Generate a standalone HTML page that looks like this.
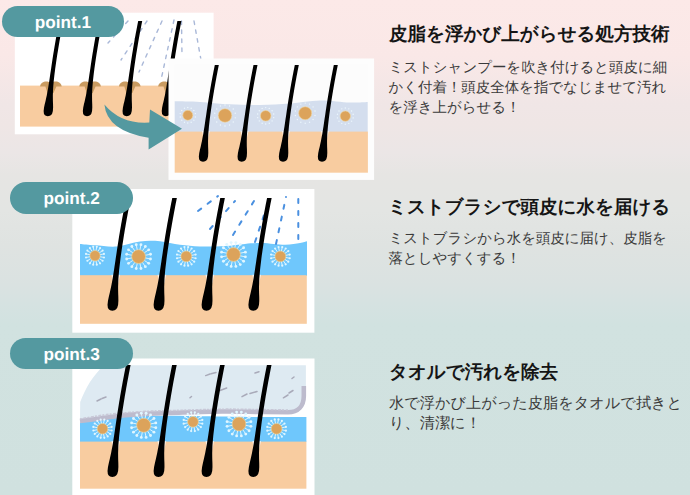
<!DOCTYPE html>
<html><head><meta charset="utf-8"><style>
html,body{margin:0;padding:0;}
body{width:690px;height:495px;overflow:hidden;position:relative;font-family:"Liberation Sans",sans-serif;text-rendering:geometricPrecision;
background:linear-gradient(to bottom,#fce9e8 0px,#fae8e7 55px,#f0e6e6 105px,#efe6e5 125px,#ebe6e6 153px,#e6e5e3 175px,#e3e5e3 210px,#dfe3e1 245px,#dae2e1 285px,#d5e2e1 305px,#d1e2e0 325px,#d0e1df 495px);}
svg{position:absolute;left:0;top:0;}
.badge{position:absolute;background:#5499a0;color:#fff;border-radius:16px;font-weight:bold;font-size:17.2px;text-align:center;}
.h{position:absolute;left:389px;font-size:18.5px;font-weight:bold;color:#151515;white-space:nowrap;line-height:1;}
.p{position:absolute;left:388.5px;font-size:14.45px;color:#3a3a3a;white-space:nowrap;line-height:19.8px;}
</style></head><body>
<svg width="690" height="495" viewBox="0 0 690 495">
<rect x="14.8" y="12.7" width="198.8" height="121.6" fill="#fff"/>
<rect x="20" y="85.6" width="190" height="41" fill="#f8cca0"/>
<line x1="147" y1="21" x2="121" y2="60" stroke="#a9b8d8" stroke-width="1.4" stroke-dasharray="3.5 5.5" stroke-linecap="round"/><line x1="128" y1="21" x2="108" y2="43" stroke="#a9b8d8" stroke-width="1.4" stroke-dasharray="3.5 5.5" stroke-linecap="round"/><line x1="162" y1="21" x2="139" y2="72" stroke="#a9b8d8" stroke-width="1.4" stroke-dasharray="3.5 5.5" stroke-linecap="round"/><line x1="174" y1="20" x2="161" y2="80" stroke="#a9b8d8" stroke-width="1.4" stroke-dasharray="3.5 5.5" stroke-linecap="round"/><line x1="181.5" y1="21" x2="182" y2="56" stroke="#a9b8d8" stroke-width="1.4" stroke-dasharray="3.5 5.5" stroke-linecap="round"/><line x1="194" y1="21" x2="201" y2="60" stroke="#a9b8d8" stroke-width="1.4" stroke-dasharray="3.5 5.5" stroke-linecap="round"/>
<path d="M40.1,86.5 C40.6,80.8 47.9,80.2 50.9,83.2 C53.9,80.2 61.2,80.8 61.7,86.5 L56.4,86.5 L53.5,93 L47.5,93 L45.4,86.5Z" fill="#c99b60"/>
<path d="M79.3,86.5 C79.8,80.8 87.1,80.2 90.1,83.2 C93.1,80.2 100.4,80.8 100.9,86.5 L95.6,86.5 L92.7,93 L86.7,93 L84.6,86.5Z" fill="#c99b60"/>
<path d="M119,86.5 C119.5,80.8 126.8,80.2 129.8,83.2 C132.8,80.2 140.1,80.8 140.6,86.5 L135.3,86.5 L132.4,93 L126.4,93 L124.3,86.5Z" fill="#c99b60"/>
<path d="M158.2,86.5 C158.7,80.8 166,80.2 169,83.2 C172,80.2 179.3,80.8 179.8,86.5 L174.5,86.5 L171.6,93 L165.6,93 L163.5,86.5Z" fill="#c99b60"/>
<path d="M59.29,21L58.7,23.97L58.12,26.93L57.55,29.9L56.99,32.86L56.45,35.83L55.91,38.79L55.38,41.76L54.87,44.72L54.36,47.69L53.87,50.66L53.39,53.62L52.92,56.59L52.45,59.55L52,62.52L51.56,65.48L51.14,68.45L50.76,70.89L50.39,73.32L50.03,75.76L49.67,78.19L49.32,80.63L48.9,83.24L48.48,85.85L48.06,88.46L47.62,90.78L47.19,93.1L46.76,95.42L46.17,98.03L45.6,100.64L45.18,102.38L44.77,104.12L44.41,105.86L44.04,107.6L43.84,109.34L43.64,111.08L43.93,113.69L44.69,114.99L45.84,115.86L47.8,116.3L49.84,115.86L51.13,114.99L52.11,113.69L52.86,111.08L52.97,109.34L53.09,107.6L53.06,105.86L53.03,104.12L52.97,102.38L52.9,100.64L52.87,98.03L52.85,95.42L52.93,93.1L53.02,90.78L53.11,88.46L53.32,85.85L53.54,83.24L53.76,80.63L54.04,78.19L54.32,75.76L54.62,73.32L54.92,70.89L55.22,68.45L55.65,65.48L56.08,62.52L56.53,59.55L56.98,56.59L57.45,53.62L57.93,50.66L58.41,47.69L58.91,44.72L59.42,41.76L59.94,38.79L60.48,35.83L61.02,32.86L61.57,29.9L62.14,26.93L62.71,23.97L63.3,21Z" fill="#000"/>
<path d="M98.49,21L97.9,23.97L97.32,26.93L96.75,29.9L96.19,32.86L95.65,35.83L95.11,38.79L94.58,41.76L94.07,44.72L93.56,47.69L93.07,50.66L92.59,53.62L92.12,56.59L91.65,59.55L91.2,62.52L90.76,65.48L90.34,68.45L89.96,70.89L89.59,73.32L89.23,75.76L88.87,78.19L88.52,80.63L88.1,83.24L87.68,85.85L87.26,88.46L86.82,90.78L86.39,93.1L85.96,95.42L85.37,98.03L84.8,100.64L84.38,102.38L83.97,104.12L83.61,105.86L83.24,107.6L83.04,109.34L82.84,111.08L83.13,113.69L83.89,114.99L85.04,115.86L87,116.3L89.04,115.86L90.33,114.99L91.31,113.69L92.06,111.08L92.17,109.34L92.29,107.6L92.26,105.86L92.23,104.12L92.17,102.38L92.1,100.64L92.07,98.03L92.05,95.42L92.13,93.1L92.22,90.78L92.31,88.46L92.52,85.85L92.74,83.24L92.96,80.63L93.24,78.19L93.52,75.76L93.82,73.32L94.12,70.89L94.42,68.45L94.85,65.48L95.28,62.52L95.73,59.55L96.18,56.59L96.65,53.62L97.13,50.66L97.61,47.69L98.11,44.72L98.62,41.76L99.14,38.79L99.68,35.83L100.22,32.86L100.77,29.9L101.34,26.93L101.91,23.97L102.5,21Z" fill="#000"/>
<path d="M138.19,21L137.6,23.97L137.02,26.93L136.45,29.9L135.89,32.86L135.35,35.83L134.81,38.79L134.28,41.76L133.77,44.72L133.26,47.69L132.77,50.66L132.29,53.62L131.82,56.59L131.35,59.55L130.9,62.52L130.46,65.48L130.04,68.45L129.66,70.89L129.29,73.32L128.93,75.76L128.57,78.19L128.22,80.63L127.8,83.24L127.38,85.85L126.96,88.46L126.52,90.78L126.09,93.1L125.66,95.42L125.07,98.03L124.5,100.64L124.08,102.38L123.67,104.12L123.31,105.86L122.94,107.6L122.74,109.34L122.54,111.08L122.83,113.69L123.59,114.99L124.74,115.86L126.7,116.3L128.74,115.86L130.03,114.99L131.01,113.69L131.76,111.08L131.87,109.34L131.99,107.6L131.96,105.86L131.93,104.12L131.87,102.38L131.8,100.64L131.77,98.03L131.75,95.42L131.83,93.1L131.92,90.78L132.01,88.46L132.22,85.85L132.44,83.24L132.66,80.63L132.94,78.19L133.22,75.76L133.52,73.32L133.82,70.89L134.12,68.45L134.55,65.48L134.98,62.52L135.43,59.55L135.88,56.59L136.35,53.62L136.83,50.66L137.31,47.69L137.81,44.72L138.32,41.76L138.84,38.79L139.38,35.83L139.92,32.86L140.47,29.9L141.04,26.93L141.61,23.97L142.2,21Z" fill="#000"/>
<path d="M177.39,21L176.8,23.97L176.22,26.93L175.65,29.9L175.09,32.86L174.55,35.83L174.01,38.79L173.48,41.76L172.97,44.72L172.46,47.69L171.97,50.66L171.49,53.62L171.02,56.59L170.55,59.55L170.1,62.52L169.66,65.48L169.24,68.45L168.86,70.89L168.49,73.32L168.13,75.76L167.77,78.19L167.42,80.63L167,83.24L166.58,85.85L166.16,88.46L165.72,90.78L165.29,93.1L164.86,95.42L164.27,98.03L163.7,100.64L163.28,102.38L162.87,104.12L162.51,105.86L162.14,107.6L161.94,109.34L161.74,111.08L162.03,113.69L162.79,114.99L163.94,115.86L165.9,116.3L167.94,115.86L169.23,114.99L170.21,113.69L170.96,111.08L171.07,109.34L171.19,107.6L171.16,105.86L171.13,104.12L171.07,102.38L171,100.64L170.97,98.03L170.95,95.42L171.03,93.1L171.12,90.78L171.21,88.46L171.42,85.85L171.64,83.24L171.86,80.63L172.14,78.19L172.42,75.76L172.72,73.32L173.02,70.89L173.32,68.45L173.75,65.48L174.18,62.52L174.63,59.55L175.08,56.59L175.55,53.62L176.03,50.66L176.51,47.69L177.01,44.72L177.52,41.76L178.04,38.79L178.58,35.83L179.12,32.86L179.67,29.9L180.24,26.93L180.81,23.97L181.4,21Z" fill="#000"/>
<rect x="168.5" y="58.5" width="205.6" height="121.4" fill="#fdfdfd"/>
<rect x="174.7" y="64.7" width="193.2" height="108" fill="#fcfcfc"/>
<path d="M174.7,101.3 C178.92,101.4 190.78,101.4 200,101.9 C209.22,102.4 220,103.8 230,104.3 C240,104.8 250,105.05 260,104.9 C270,104.75 280,104.15 290,103.4 C300,102.65 310,100.55 320,100.4 C330,100.25 342.05,102.25 350,102.5 C357.95,102.75 364.75,102 367.7,101.9 L367.7,132 L174.7,132Z" fill="#d4deee"/>
<rect x="174.7" y="131.6" width="193.2" height="41.1" fill="#f8cca0"/>
<circle cx="195.36" cy="117.02" r="0.7" fill="#f0fbff" opacity="0.9"/><circle cx="193.86" cy="120.13" r="0.7" fill="#f0fbff" opacity="0.9"/><circle cx="191.16" cy="122.28" r="0.7" fill="#f0fbff" opacity="0.9"/><circle cx="187.8" cy="123.05" r="0.7" fill="#f0fbff" opacity="0.9"/><circle cx="184.44" cy="122.28" r="0.7" fill="#f0fbff" opacity="0.9"/><circle cx="181.74" cy="120.13" r="0.7" fill="#f0fbff" opacity="0.9"/><circle cx="180.24" cy="117.02" r="0.7" fill="#f0fbff" opacity="0.9"/><circle cx="180.24" cy="113.58" r="0.7" fill="#f0fbff" opacity="0.9"/><circle cx="181.74" cy="110.47" r="0.7" fill="#f0fbff" opacity="0.9"/><circle cx="184.44" cy="108.32" r="0.7" fill="#f0fbff" opacity="0.9"/><circle cx="187.8" cy="107.55" r="0.7" fill="#f0fbff" opacity="0.9"/><circle cx="191.16" cy="108.32" r="0.7" fill="#f0fbff" opacity="0.9"/><circle cx="193.86" cy="110.47" r="0.7" fill="#f0fbff" opacity="0.9"/><circle cx="195.36" cy="113.58" r="0.7" fill="#f0fbff" opacity="0.9"/><circle cx="187.8" cy="115.3" r="5" fill="#dca35b" stroke="#f2d9a0" stroke-width="0.6"/>
<circle cx="235.28" cy="117.85" r="0.7" fill="#f0fbff" opacity="0.9"/><circle cx="233.24" cy="122.07" r="0.7" fill="#f0fbff" opacity="0.9"/><circle cx="229.57" cy="125" r="0.7" fill="#f0fbff" opacity="0.9"/><circle cx="225" cy="126.04" r="0.7" fill="#f0fbff" opacity="0.9"/><circle cx="220.43" cy="125" r="0.7" fill="#f0fbff" opacity="0.9"/><circle cx="216.76" cy="122.07" r="0.7" fill="#f0fbff" opacity="0.9"/><circle cx="214.72" cy="117.85" r="0.7" fill="#f0fbff" opacity="0.9"/><circle cx="214.72" cy="113.15" r="0.7" fill="#f0fbff" opacity="0.9"/><circle cx="216.76" cy="108.93" r="0.7" fill="#f0fbff" opacity="0.9"/><circle cx="220.43" cy="106" r="0.7" fill="#f0fbff" opacity="0.9"/><circle cx="225" cy="104.96" r="0.7" fill="#f0fbff" opacity="0.9"/><circle cx="229.57" cy="106" r="0.7" fill="#f0fbff" opacity="0.9"/><circle cx="233.24" cy="108.93" r="0.7" fill="#f0fbff" opacity="0.9"/><circle cx="235.28" cy="113.15" r="0.7" fill="#f0fbff" opacity="0.9"/><circle cx="225" cy="115.5" r="6.8" fill="#dca35b" stroke="#f2d9a0" stroke-width="0.6"/>
<circle cx="273.71" cy="117.63" r="0.7" fill="#f0fbff" opacity="0.9"/><circle cx="272.12" cy="120.92" r="0.7" fill="#f0fbff" opacity="0.9"/><circle cx="269.26" cy="123.2" r="0.7" fill="#f0fbff" opacity="0.9"/><circle cx="265.7" cy="124.02" r="0.7" fill="#f0fbff" opacity="0.9"/><circle cx="262.14" cy="123.2" r="0.7" fill="#f0fbff" opacity="0.9"/><circle cx="259.28" cy="120.92" r="0.7" fill="#f0fbff" opacity="0.9"/><circle cx="257.69" cy="117.63" r="0.7" fill="#f0fbff" opacity="0.9"/><circle cx="257.69" cy="113.97" r="0.7" fill="#f0fbff" opacity="0.9"/><circle cx="259.28" cy="110.68" r="0.7" fill="#f0fbff" opacity="0.9"/><circle cx="262.14" cy="108.4" r="0.7" fill="#f0fbff" opacity="0.9"/><circle cx="265.7" cy="107.58" r="0.7" fill="#f0fbff" opacity="0.9"/><circle cx="269.26" cy="108.4" r="0.7" fill="#f0fbff" opacity="0.9"/><circle cx="272.12" cy="110.68" r="0.7" fill="#f0fbff" opacity="0.9"/><circle cx="273.71" cy="113.97" r="0.7" fill="#f0fbff" opacity="0.9"/><circle cx="265.7" cy="115.8" r="5.3" fill="#dca35b" stroke="#f2d9a0" stroke-width="0.6"/>
<circle cx="315.02" cy="115.44" r="0.7" fill="#f0fbff" opacity="0.9"/><circle cx="313.08" cy="119.48" r="0.7" fill="#f0fbff" opacity="0.9"/><circle cx="309.57" cy="122.28" r="0.7" fill="#f0fbff" opacity="0.9"/><circle cx="305.2" cy="123.28" r="0.7" fill="#f0fbff" opacity="0.9"/><circle cx="300.83" cy="122.28" r="0.7" fill="#f0fbff" opacity="0.9"/><circle cx="297.32" cy="119.48" r="0.7" fill="#f0fbff" opacity="0.9"/><circle cx="295.38" cy="115.44" r="0.7" fill="#f0fbff" opacity="0.9"/><circle cx="295.38" cy="110.96" r="0.7" fill="#f0fbff" opacity="0.9"/><circle cx="297.32" cy="106.92" r="0.7" fill="#f0fbff" opacity="0.9"/><circle cx="300.83" cy="104.12" r="0.7" fill="#f0fbff" opacity="0.9"/><circle cx="305.2" cy="103.12" r="0.7" fill="#f0fbff" opacity="0.9"/><circle cx="309.57" cy="104.12" r="0.7" fill="#f0fbff" opacity="0.9"/><circle cx="313.08" cy="106.92" r="0.7" fill="#f0fbff" opacity="0.9"/><circle cx="315.02" cy="110.96" r="0.7" fill="#f0fbff" opacity="0.9"/><circle cx="305.2" cy="113.2" r="6.5" fill="#dca35b" stroke="#f2d9a0" stroke-width="0.6"/>
<circle cx="353.16" cy="117.89" r="0.7" fill="#f0fbff" opacity="0.9"/><circle cx="351.6" cy="121.13" r="0.7" fill="#f0fbff" opacity="0.9"/><circle cx="348.8" cy="123.36" r="0.7" fill="#f0fbff" opacity="0.9"/><circle cx="345.3" cy="124.16" r="0.7" fill="#f0fbff" opacity="0.9"/><circle cx="341.8" cy="123.36" r="0.7" fill="#f0fbff" opacity="0.9"/><circle cx="339" cy="121.13" r="0.7" fill="#f0fbff" opacity="0.9"/><circle cx="337.44" cy="117.89" r="0.7" fill="#f0fbff" opacity="0.9"/><circle cx="337.44" cy="114.31" r="0.7" fill="#f0fbff" opacity="0.9"/><circle cx="339" cy="111.07" r="0.7" fill="#f0fbff" opacity="0.9"/><circle cx="341.8" cy="108.84" r="0.7" fill="#f0fbff" opacity="0.9"/><circle cx="345.3" cy="108.04" r="0.7" fill="#f0fbff" opacity="0.9"/><circle cx="348.8" cy="108.84" r="0.7" fill="#f0fbff" opacity="0.9"/><circle cx="351.6" cy="111.07" r="0.7" fill="#f0fbff" opacity="0.9"/><circle cx="353.16" cy="114.31" r="0.7" fill="#f0fbff" opacity="0.9"/><circle cx="345.3" cy="116.1" r="5.2" fill="#dca35b" stroke="#f2d9a0" stroke-width="0.6"/>
<path d="M201.94,131.1 L203.84,139.43 L207.99,138.56 L209.89,131.1 Z" fill="#fff" opacity="0.7"/>
<path d="M214.8,65L214.22,67.88L213.65,70.76L213.09,73.64L212.54,76.52L212,79.4L211.47,82.28L210.95,85.16L210.45,88.04L209.95,90.91L209.46,93.79L208.98,96.67L208.52,99.55L208.06,102.43L207.61,105.31L207.18,108.19L206.75,111.07L206.34,113.95L205.96,116.39L205.59,118.82L205.23,121.26L204.87,123.69L204.52,126.13L204.1,128.74L203.68,131.35L203.26,133.96L202.82,136.28L202.39,138.6L201.96,140.92L201.37,143.53L200.8,146.14L200.38,147.88L199.97,149.62L199.61,151.36L199.24,153.1L199.04,154.84L198.84,156.58L199.13,159.19L199.89,160.5L201.04,161.37L203,161.8L205.04,161.37L206.33,160.5L207.31,159.19L208.06,156.58L208.17,154.84L208.29,153.1L208.26,151.36L208.23,149.62L208.17,147.88L208.1,146.14L208.07,143.53L208.05,140.92L208.13,138.6L208.22,136.28L208.31,133.96L208.52,131.35L208.74,128.74L208.96,126.13L209.24,123.69L209.52,121.26L209.82,118.82L210.12,116.39L210.42,113.95L210.84,111.07L211.26,108.19L211.69,105.31L212.13,102.43L212.58,99.55L213.04,96.67L213.52,93.79L214,90.91L214.49,88.04L214.99,85.16L215.51,82.28L216.03,79.4L216.56,76.52L217.11,73.64L217.66,70.76L218.22,67.88L218.8,65Z" fill="#000"/>
<path d="M240.64,131.1 L242.54,139.43 L246.69,138.56 L248.59,131.1 Z" fill="#fff" opacity="0.7"/>
<path d="M253.5,65L252.92,67.88L252.35,70.76L251.79,73.64L251.24,76.52L250.7,79.4L250.17,82.28L249.65,85.16L249.15,88.04L248.65,90.91L248.16,93.79L247.68,96.67L247.22,99.55L246.76,102.43L246.31,105.31L245.88,108.19L245.45,111.07L245.04,113.95L244.66,116.39L244.29,118.82L243.93,121.26L243.57,123.69L243.22,126.13L242.8,128.74L242.38,131.35L241.96,133.96L241.52,136.28L241.09,138.6L240.66,140.92L240.07,143.53L239.5,146.14L239.08,147.88L238.67,149.62L238.31,151.36L237.94,153.1L237.74,154.84L237.54,156.58L237.83,159.19L238.59,160.5L239.74,161.37L241.7,161.8L243.74,161.37L245.03,160.5L246.01,159.19L246.76,156.58L246.87,154.84L246.99,153.1L246.96,151.36L246.93,149.62L246.87,147.88L246.8,146.14L246.77,143.53L246.75,140.92L246.83,138.6L246.92,136.28L247.01,133.96L247.22,131.35L247.44,128.74L247.66,126.13L247.94,123.69L248.22,121.26L248.52,118.82L248.82,116.39L249.12,113.95L249.54,111.07L249.96,108.19L250.39,105.31L250.83,102.43L251.28,99.55L251.74,96.67L252.22,93.79L252.7,90.91L253.19,88.04L253.69,85.16L254.21,82.28L254.73,79.4L255.26,76.52L255.81,73.64L256.36,70.76L256.92,67.88L257.5,65Z" fill="#000"/>
<path d="M281.94,131.1 L283.84,139.43 L287.99,138.56 L289.89,131.1 Z" fill="#fff" opacity="0.7"/>
<path d="M294.8,65L294.22,67.88L293.65,70.76L293.09,73.64L292.54,76.52L292,79.4L291.47,82.28L290.95,85.16L290.45,88.04L289.95,90.91L289.46,93.79L288.98,96.67L288.52,99.55L288.06,102.43L287.61,105.31L287.18,108.19L286.75,111.07L286.34,113.95L285.96,116.39L285.59,118.82L285.23,121.26L284.87,123.69L284.52,126.13L284.1,128.74L283.68,131.35L283.26,133.96L282.82,136.28L282.39,138.6L281.96,140.92L281.37,143.53L280.8,146.14L280.38,147.88L279.97,149.62L279.61,151.36L279.24,153.1L279.04,154.84L278.84,156.58L279.13,159.19L279.89,160.5L281.04,161.37L283,161.8L285.04,161.37L286.33,160.5L287.31,159.19L288.06,156.58L288.17,154.84L288.29,153.1L288.26,151.36L288.23,149.62L288.17,147.88L288.1,146.14L288.07,143.53L288.05,140.92L288.13,138.6L288.22,136.28L288.31,133.96L288.52,131.35L288.74,128.74L288.96,126.13L289.24,123.69L289.52,121.26L289.82,118.82L290.12,116.39L290.42,113.95L290.84,111.07L291.26,108.19L291.69,105.31L292.13,102.43L292.58,99.55L293.04,96.67L293.52,93.79L294,90.91L294.49,88.04L294.99,85.16L295.51,82.28L296.03,79.4L296.56,76.52L297.11,73.64L297.66,70.76L298.22,67.88L298.8,65Z" fill="#000"/>
<path d="M320.94,131.1 L322.84,139.43 L326.99,138.56 L328.89,131.1 Z" fill="#fff" opacity="0.7"/>
<path d="M333.8,65L333.22,67.88L332.65,70.76L332.09,73.64L331.54,76.52L331,79.4L330.47,82.28L329.95,85.16L329.45,88.04L328.95,90.91L328.46,93.79L327.98,96.67L327.52,99.55L327.06,102.43L326.61,105.31L326.18,108.19L325.75,111.07L325.34,113.95L324.96,116.39L324.59,118.82L324.23,121.26L323.87,123.69L323.52,126.13L323.1,128.74L322.68,131.35L322.26,133.96L321.82,136.28L321.39,138.6L320.96,140.92L320.37,143.53L319.8,146.14L319.38,147.88L318.97,149.62L318.61,151.36L318.24,153.1L318.04,154.84L317.84,156.58L318.13,159.19L318.89,160.5L320.04,161.37L322,161.8L324.04,161.37L325.33,160.5L326.31,159.19L327.06,156.58L327.17,154.84L327.29,153.1L327.26,151.36L327.23,149.62L327.17,147.88L327.1,146.14L327.07,143.53L327.05,140.92L327.13,138.6L327.22,136.28L327.31,133.96L327.52,131.35L327.74,128.74L327.96,126.13L328.24,123.69L328.52,121.26L328.82,118.82L329.12,116.39L329.42,113.95L329.84,111.07L330.26,108.19L330.69,105.31L331.13,102.43L331.58,99.55L332.04,96.67L332.52,93.79L333,90.91L333.49,88.04L333.99,85.16L334.51,82.28L335.03,79.4L335.56,76.52L336.11,73.64L336.66,70.76L337.22,67.88L337.8,65Z" fill="#000"/>
<path d="M104.4,104.5 Q121.2,124.5 149.3,122.6 L150,109.6 L182,128.8 L148.6,149.4 L148.6,137.8 Q106.9,130.9 104.4,104.5Z" fill="#5499a0"/>
<rect x="72.3" y="189" width="242.1" height="143.7" fill="#fff"/>
<path d="M80,243.9 C82.5,244.13 88.83,244.87 95,245.3 C101.17,245.73 109.5,247.13 117,246.5 C124.5,245.87 132.83,242.37 140,241.5 C147.17,240.63 153.33,240.75 160,241.3 C166.67,241.85 173.33,243.93 180,244.8 C186.67,245.67 192.5,246.3 200,246.5 C207.5,246.7 217.5,246.43 225,246 C232.5,245.57 238.83,244.4 245,243.9 C251.17,243.4 255.33,242.85 262,243 C268.67,243.15 278.67,244.8 285,244.8 C291.33,244.8 296.33,243.58 300,243 C303.67,242.42 305.83,241.58 307,241.3 L307,276 L80,276Z" fill="#6fc7fc"/>
<rect x="80" y="275.2" width="226.8" height="48.6" fill="#f8cca0"/>
<line x1="198" y1="211" x2="218" y2="196" stroke="#4a90e0" stroke-width="2" stroke-dasharray="4 8" stroke-linecap="round"/><line x1="210" y1="229" x2="235" y2="201" stroke="#4a90e0" stroke-width="2" stroke-dasharray="4 8" stroke-linecap="round"/><line x1="233" y1="235" x2="254" y2="201" stroke="#4a90e0" stroke-width="2" stroke-dasharray="4 8" stroke-linecap="round"/><line x1="255" y1="242" x2="265" y2="212" stroke="#4a90e0" stroke-width="2" stroke-dasharray="4 8" stroke-linecap="round"/><line x1="276" y1="244" x2="286" y2="197" stroke="#4a90e0" stroke-width="2" stroke-dasharray="4 8" stroke-linecap="round"/><line x1="298.3" y1="199" x2="298.3" y2="242" stroke="#4a90e0" stroke-width="2" stroke-dasharray="4 8" stroke-linecap="round"/>
<line x1="100.1" y1="256.71" x2="103.98" y2="257.49" stroke="#e6f8ff" stroke-width="0.9"/><circle cx="103.98" cy="257.49" r="1.07" fill="#e0f6ff"/><line x1="99.32" y1="258.59" x2="102.61" y2="260.78" stroke="#e6f8ff" stroke-width="0.9"/><circle cx="102.61" cy="260.78" r="1.07" fill="#e0f6ff"/><line x1="97.89" y1="260.02" x2="100.08" y2="263.31" stroke="#e6f8ff" stroke-width="0.9"/><circle cx="100.08" cy="263.31" r="1.07" fill="#e0f6ff"/><line x1="96.01" y1="260.8" x2="96.79" y2="264.68" stroke="#e6f8ff" stroke-width="0.9"/><circle cx="96.79" cy="264.68" r="1.07" fill="#e0f6ff"/><line x1="93.99" y1="260.8" x2="93.21" y2="264.68" stroke="#e6f8ff" stroke-width="0.9"/><circle cx="93.21" cy="264.68" r="1.07" fill="#e0f6ff"/><line x1="92.11" y1="260.02" x2="89.92" y2="263.31" stroke="#e6f8ff" stroke-width="0.9"/><circle cx="89.92" cy="263.31" r="1.07" fill="#e0f6ff"/><line x1="90.68" y1="258.59" x2="87.39" y2="260.78" stroke="#e6f8ff" stroke-width="0.9"/><circle cx="87.39" cy="260.78" r="1.07" fill="#e0f6ff"/><line x1="89.9" y1="256.71" x2="86.02" y2="257.49" stroke="#e6f8ff" stroke-width="0.9"/><circle cx="86.02" cy="257.49" r="1.07" fill="#e0f6ff"/><line x1="89.9" y1="254.69" x2="86.02" y2="253.91" stroke="#e6f8ff" stroke-width="0.9"/><circle cx="86.02" cy="253.91" r="1.07" fill="#e0f6ff"/><line x1="90.68" y1="252.81" x2="87.39" y2="250.62" stroke="#e6f8ff" stroke-width="0.9"/><circle cx="87.39" cy="250.62" r="1.07" fill="#e0f6ff"/><line x1="92.11" y1="251.38" x2="89.92" y2="248.09" stroke="#e6f8ff" stroke-width="0.9"/><circle cx="89.92" cy="248.09" r="1.07" fill="#e0f6ff"/><line x1="93.99" y1="250.6" x2="93.21" y2="246.72" stroke="#e6f8ff" stroke-width="0.9"/><circle cx="93.21" cy="246.72" r="1.07" fill="#e0f6ff"/><line x1="96.01" y1="250.6" x2="96.79" y2="246.72" stroke="#e6f8ff" stroke-width="0.9"/><circle cx="96.79" cy="246.72" r="1.07" fill="#e0f6ff"/><line x1="97.89" y1="251.38" x2="100.08" y2="248.09" stroke="#e6f8ff" stroke-width="0.9"/><circle cx="100.08" cy="248.09" r="1.07" fill="#e0f6ff"/><line x1="99.32" y1="252.81" x2="102.61" y2="250.62" stroke="#e6f8ff" stroke-width="0.9"/><circle cx="102.61" cy="250.62" r="1.07" fill="#e0f6ff"/><line x1="100.1" y1="254.69" x2="103.98" y2="253.91" stroke="#e6f8ff" stroke-width="0.9"/><circle cx="103.98" cy="253.91" r="1.07" fill="#e0f6ff"/><circle cx="95" cy="255.7" r="5.2" fill="#dca35b" stroke="#f2d9a0" stroke-width="0.6"/>
<line x1="145.37" y1="257.95" x2="150.51" y2="258.97" stroke="#e6f8ff" stroke-width="0.9"/><circle cx="150.51" cy="258.97" r="1.42" fill="#e0f6ff"/><line x1="144.34" y1="260.43" x2="148.7" y2="263.35" stroke="#e6f8ff" stroke-width="0.9"/><circle cx="148.7" cy="263.35" r="1.42" fill="#e0f6ff"/><line x1="142.43" y1="262.34" x2="145.35" y2="266.7" stroke="#e6f8ff" stroke-width="0.9"/><circle cx="145.35" cy="266.7" r="1.42" fill="#e0f6ff"/><line x1="139.95" y1="263.37" x2="140.97" y2="268.51" stroke="#e6f8ff" stroke-width="0.9"/><circle cx="140.97" cy="268.51" r="1.42" fill="#e0f6ff"/><line x1="137.25" y1="263.37" x2="136.23" y2="268.51" stroke="#e6f8ff" stroke-width="0.9"/><circle cx="136.23" cy="268.51" r="1.42" fill="#e0f6ff"/><line x1="134.77" y1="262.34" x2="131.85" y2="266.7" stroke="#e6f8ff" stroke-width="0.9"/><circle cx="131.85" cy="266.7" r="1.42" fill="#e0f6ff"/><line x1="132.86" y1="260.43" x2="128.5" y2="263.35" stroke="#e6f8ff" stroke-width="0.9"/><circle cx="128.5" cy="263.35" r="1.42" fill="#e0f6ff"/><line x1="131.83" y1="257.95" x2="126.69" y2="258.97" stroke="#e6f8ff" stroke-width="0.9"/><circle cx="126.69" cy="258.97" r="1.42" fill="#e0f6ff"/><line x1="131.83" y1="255.25" x2="126.69" y2="254.23" stroke="#e6f8ff" stroke-width="0.9"/><circle cx="126.69" cy="254.23" r="1.42" fill="#e0f6ff"/><line x1="132.86" y1="252.77" x2="128.5" y2="249.85" stroke="#e6f8ff" stroke-width="0.9"/><circle cx="128.5" cy="249.85" r="1.42" fill="#e0f6ff"/><line x1="134.77" y1="250.86" x2="131.85" y2="246.5" stroke="#e6f8ff" stroke-width="0.9"/><circle cx="131.85" cy="246.5" r="1.42" fill="#e0f6ff"/><line x1="137.25" y1="249.83" x2="136.23" y2="244.69" stroke="#e6f8ff" stroke-width="0.9"/><circle cx="136.23" cy="244.69" r="1.42" fill="#e0f6ff"/><line x1="139.95" y1="249.83" x2="140.97" y2="244.69" stroke="#e6f8ff" stroke-width="0.9"/><circle cx="140.97" cy="244.69" r="1.42" fill="#e0f6ff"/><line x1="142.43" y1="250.86" x2="145.35" y2="246.5" stroke="#e6f8ff" stroke-width="0.9"/><circle cx="145.35" cy="246.5" r="1.42" fill="#e0f6ff"/><line x1="144.34" y1="252.77" x2="148.7" y2="249.85" stroke="#e6f8ff" stroke-width="0.9"/><circle cx="148.7" cy="249.85" r="1.42" fill="#e0f6ff"/><line x1="145.37" y1="255.25" x2="150.51" y2="254.23" stroke="#e6f8ff" stroke-width="0.9"/><circle cx="150.51" cy="254.23" r="1.42" fill="#e0f6ff"/><circle cx="138.6" cy="256.6" r="6.9" fill="#dca35b" stroke="#f2d9a0" stroke-width="0.6"/>
<line x1="191.6" y1="257.45" x2="195.62" y2="258.25" stroke="#e6f8ff" stroke-width="0.9"/><circle cx="195.62" cy="258.25" r="1.11" fill="#e0f6ff"/><line x1="190.79" y1="259.4" x2="194.2" y2="261.68" stroke="#e6f8ff" stroke-width="0.9"/><circle cx="194.2" cy="261.68" r="1.11" fill="#e0f6ff"/><line x1="189.3" y1="260.89" x2="191.58" y2="264.3" stroke="#e6f8ff" stroke-width="0.9"/><circle cx="191.58" cy="264.3" r="1.11" fill="#e0f6ff"/><line x1="187.35" y1="261.7" x2="188.15" y2="265.72" stroke="#e6f8ff" stroke-width="0.9"/><circle cx="188.15" cy="265.72" r="1.11" fill="#e0f6ff"/><line x1="185.25" y1="261.7" x2="184.45" y2="265.72" stroke="#e6f8ff" stroke-width="0.9"/><circle cx="184.45" cy="265.72" r="1.11" fill="#e0f6ff"/><line x1="183.3" y1="260.89" x2="181.02" y2="264.3" stroke="#e6f8ff" stroke-width="0.9"/><circle cx="181.02" cy="264.3" r="1.11" fill="#e0f6ff"/><line x1="181.81" y1="259.4" x2="178.4" y2="261.68" stroke="#e6f8ff" stroke-width="0.9"/><circle cx="178.4" cy="261.68" r="1.11" fill="#e0f6ff"/><line x1="181" y1="257.45" x2="176.98" y2="258.25" stroke="#e6f8ff" stroke-width="0.9"/><circle cx="176.98" cy="258.25" r="1.11" fill="#e0f6ff"/><line x1="181" y1="255.35" x2="176.98" y2="254.55" stroke="#e6f8ff" stroke-width="0.9"/><circle cx="176.98" cy="254.55" r="1.11" fill="#e0f6ff"/><line x1="181.81" y1="253.4" x2="178.4" y2="251.12" stroke="#e6f8ff" stroke-width="0.9"/><circle cx="178.4" cy="251.12" r="1.11" fill="#e0f6ff"/><line x1="183.3" y1="251.91" x2="181.02" y2="248.5" stroke="#e6f8ff" stroke-width="0.9"/><circle cx="181.02" cy="248.5" r="1.11" fill="#e0f6ff"/><line x1="185.25" y1="251.1" x2="184.45" y2="247.08" stroke="#e6f8ff" stroke-width="0.9"/><circle cx="184.45" cy="247.08" r="1.11" fill="#e0f6ff"/><line x1="187.35" y1="251.1" x2="188.15" y2="247.08" stroke="#e6f8ff" stroke-width="0.9"/><circle cx="188.15" cy="247.08" r="1.11" fill="#e0f6ff"/><line x1="189.3" y1="251.91" x2="191.58" y2="248.5" stroke="#e6f8ff" stroke-width="0.9"/><circle cx="191.58" cy="248.5" r="1.11" fill="#e0f6ff"/><line x1="190.79" y1="253.4" x2="194.2" y2="251.12" stroke="#e6f8ff" stroke-width="0.9"/><circle cx="194.2" cy="251.12" r="1.11" fill="#e0f6ff"/><line x1="191.6" y1="255.35" x2="195.62" y2="254.55" stroke="#e6f8ff" stroke-width="0.9"/><circle cx="195.62" cy="254.55" r="1.11" fill="#e0f6ff"/><circle cx="186.3" cy="256.4" r="5.4" fill="#dca35b" stroke="#f2d9a0" stroke-width="0.6"/>
<line x1="240.27" y1="255.85" x2="245.41" y2="256.87" stroke="#e6f8ff" stroke-width="0.9"/><circle cx="245.41" cy="256.87" r="1.42" fill="#e0f6ff"/><line x1="239.24" y1="258.33" x2="243.6" y2="261.25" stroke="#e6f8ff" stroke-width="0.9"/><circle cx="243.6" cy="261.25" r="1.42" fill="#e0f6ff"/><line x1="237.33" y1="260.24" x2="240.25" y2="264.6" stroke="#e6f8ff" stroke-width="0.9"/><circle cx="240.25" cy="264.6" r="1.42" fill="#e0f6ff"/><line x1="234.85" y1="261.27" x2="235.87" y2="266.41" stroke="#e6f8ff" stroke-width="0.9"/><circle cx="235.87" cy="266.41" r="1.42" fill="#e0f6ff"/><line x1="232.15" y1="261.27" x2="231.13" y2="266.41" stroke="#e6f8ff" stroke-width="0.9"/><circle cx="231.13" cy="266.41" r="1.42" fill="#e0f6ff"/><line x1="229.67" y1="260.24" x2="226.75" y2="264.6" stroke="#e6f8ff" stroke-width="0.9"/><circle cx="226.75" cy="264.6" r="1.42" fill="#e0f6ff"/><line x1="227.76" y1="258.33" x2="223.4" y2="261.25" stroke="#e6f8ff" stroke-width="0.9"/><circle cx="223.4" cy="261.25" r="1.42" fill="#e0f6ff"/><line x1="226.73" y1="255.85" x2="221.59" y2="256.87" stroke="#e6f8ff" stroke-width="0.9"/><circle cx="221.59" cy="256.87" r="1.42" fill="#e0f6ff"/><line x1="226.73" y1="253.15" x2="221.59" y2="252.13" stroke="#e6f8ff" stroke-width="0.9"/><circle cx="221.59" cy="252.13" r="1.42" fill="#e0f6ff"/><line x1="227.76" y1="250.67" x2="223.4" y2="247.75" stroke="#e6f8ff" stroke-width="0.9"/><circle cx="223.4" cy="247.75" r="1.42" fill="#e0f6ff"/><line x1="229.67" y1="248.76" x2="226.75" y2="244.4" stroke="#e6f8ff" stroke-width="0.9"/><circle cx="226.75" cy="244.4" r="1.42" fill="#e0f6ff"/><line x1="232.15" y1="247.73" x2="231.13" y2="242.59" stroke="#e6f8ff" stroke-width="0.9"/><circle cx="231.13" cy="242.59" r="1.42" fill="#e0f6ff"/><line x1="234.85" y1="247.73" x2="235.87" y2="242.59" stroke="#e6f8ff" stroke-width="0.9"/><circle cx="235.87" cy="242.59" r="1.42" fill="#e0f6ff"/><line x1="237.33" y1="248.76" x2="240.25" y2="244.4" stroke="#e6f8ff" stroke-width="0.9"/><circle cx="240.25" cy="244.4" r="1.42" fill="#e0f6ff"/><line x1="239.24" y1="250.67" x2="243.6" y2="247.75" stroke="#e6f8ff" stroke-width="0.9"/><circle cx="243.6" cy="247.75" r="1.42" fill="#e0f6ff"/><line x1="240.27" y1="253.15" x2="245.41" y2="252.13" stroke="#e6f8ff" stroke-width="0.9"/><circle cx="245.41" cy="252.13" r="1.42" fill="#e0f6ff"/><circle cx="233.5" cy="254.5" r="6.9" fill="#dca35b" stroke="#f2d9a0" stroke-width="0.6"/>
<line x1="285.7" y1="257.45" x2="289.72" y2="258.25" stroke="#e6f8ff" stroke-width="0.9"/><circle cx="289.72" cy="258.25" r="1.11" fill="#e0f6ff"/><line x1="284.89" y1="259.4" x2="288.3" y2="261.68" stroke="#e6f8ff" stroke-width="0.9"/><circle cx="288.3" cy="261.68" r="1.11" fill="#e0f6ff"/><line x1="283.4" y1="260.89" x2="285.68" y2="264.3" stroke="#e6f8ff" stroke-width="0.9"/><circle cx="285.68" cy="264.3" r="1.11" fill="#e0f6ff"/><line x1="281.45" y1="261.7" x2="282.25" y2="265.72" stroke="#e6f8ff" stroke-width="0.9"/><circle cx="282.25" cy="265.72" r="1.11" fill="#e0f6ff"/><line x1="279.35" y1="261.7" x2="278.55" y2="265.72" stroke="#e6f8ff" stroke-width="0.9"/><circle cx="278.55" cy="265.72" r="1.11" fill="#e0f6ff"/><line x1="277.4" y1="260.89" x2="275.12" y2="264.3" stroke="#e6f8ff" stroke-width="0.9"/><circle cx="275.12" cy="264.3" r="1.11" fill="#e0f6ff"/><line x1="275.91" y1="259.4" x2="272.5" y2="261.68" stroke="#e6f8ff" stroke-width="0.9"/><circle cx="272.5" cy="261.68" r="1.11" fill="#e0f6ff"/><line x1="275.1" y1="257.45" x2="271.08" y2="258.25" stroke="#e6f8ff" stroke-width="0.9"/><circle cx="271.08" cy="258.25" r="1.11" fill="#e0f6ff"/><line x1="275.1" y1="255.35" x2="271.08" y2="254.55" stroke="#e6f8ff" stroke-width="0.9"/><circle cx="271.08" cy="254.55" r="1.11" fill="#e0f6ff"/><line x1="275.91" y1="253.4" x2="272.5" y2="251.12" stroke="#e6f8ff" stroke-width="0.9"/><circle cx="272.5" cy="251.12" r="1.11" fill="#e0f6ff"/><line x1="277.4" y1="251.91" x2="275.12" y2="248.5" stroke="#e6f8ff" stroke-width="0.9"/><circle cx="275.12" cy="248.5" r="1.11" fill="#e0f6ff"/><line x1="279.35" y1="251.1" x2="278.55" y2="247.08" stroke="#e6f8ff" stroke-width="0.9"/><circle cx="278.55" cy="247.08" r="1.11" fill="#e0f6ff"/><line x1="281.45" y1="251.1" x2="282.25" y2="247.08" stroke="#e6f8ff" stroke-width="0.9"/><circle cx="282.25" cy="247.08" r="1.11" fill="#e0f6ff"/><line x1="283.4" y1="251.91" x2="285.68" y2="248.5" stroke="#e6f8ff" stroke-width="0.9"/><circle cx="285.68" cy="248.5" r="1.11" fill="#e0f6ff"/><line x1="284.89" y1="253.4" x2="288.3" y2="251.12" stroke="#e6f8ff" stroke-width="0.9"/><circle cx="288.3" cy="251.12" r="1.11" fill="#e0f6ff"/><line x1="285.7" y1="255.35" x2="289.72" y2="254.55" stroke="#e6f8ff" stroke-width="0.9"/><circle cx="289.72" cy="254.55" r="1.11" fill="#e0f6ff"/><circle cx="280.4" cy="256.4" r="5.4" fill="#dca35b" stroke="#f2d9a0" stroke-width="0.6"/>
<path d="M111.43,274.7 L113.33,284.2 L118.23,283.2 L120.13,274.7 Z" fill="#fff" opacity="0.7"/>
<path d="M126.15,198.1L125.56,200.99L124.99,203.87L124.42,206.75L123.86,209.64L123.31,212.53L122.77,215.41L122.24,218.3L121.72,221.18L121.2,224.06L120.7,226.95L120.2,229.84L119.71,232.72L119.23,235.61L118.76,238.49L118.3,241.38L117.85,244.26L117.41,247.15L116.97,250.03L116.55,252.92L116.13,255.8L115.7,258.6L115.28,261.4L114.86,264.2L114.45,267L114.05,269.8L113.68,272.05L113.32,274.3L112.96,276.55L112.6,278.8L112.1,281.47L111.59,284.13L111.1,286.8L110.65,288.8L110.21,290.8L109.77,292.8L109.29,294.8L108.82,296.8L108.4,298.8L107.98,300.8L107.75,302.8L107.52,304.8L107.68,306.3L107.85,307.8L108.73,309.3L110.04,310.3L112.3,310.8L114.64,310.3L116.13,309.3L117.25,307.8L117.68,306.3L118.12,304.8L118.25,302.8L118.38,300.8L118.35,298.8L118.32,296.8L118.24,294.8L118.17,292.8L118.14,290.8L118.12,288.8L118.1,286.8L118.19,284.13L118.3,281.47L118.4,278.8L118.58,276.55L118.77,274.3L118.96,272.05L119.15,269.8L119.47,267L119.8,264.2L120.14,261.4L120.48,258.6L120.83,255.8L121.24,252.92L121.66,250.03L122.09,247.15L122.53,244.26L122.98,241.38L123.43,238.49L123.9,235.61L124.37,232.72L124.85,229.84L125.35,226.95L125.85,224.06L126.36,221.18L126.87,218.3L127.4,215.41L127.94,212.53L128.48,209.64L129.03,206.75L129.6,203.87L130.17,200.99L130.75,198.1Z" fill="#000"/>
<path d="M157.53,274.7 L159.43,284.2 L164.33,283.2 L166.23,274.7 Z" fill="#fff" opacity="0.7"/>
<path d="M172.25,198.1L171.66,200.99L171.09,203.87L170.52,206.75L169.96,209.64L169.41,212.53L168.87,215.41L168.34,218.3L167.82,221.18L167.3,224.06L166.8,226.95L166.3,229.84L165.81,232.72L165.33,235.61L164.86,238.49L164.4,241.38L163.95,244.26L163.51,247.15L163.07,250.03L162.65,252.92L162.23,255.8L161.8,258.6L161.38,261.4L160.96,264.2L160.55,267L160.15,269.8L159.78,272.05L159.42,274.3L159.06,276.55L158.7,278.8L158.2,281.47L157.69,284.13L157.2,286.8L156.75,288.8L156.31,290.8L155.87,292.8L155.39,294.8L154.92,296.8L154.5,298.8L154.08,300.8L153.85,302.8L153.62,304.8L153.78,306.3L153.95,307.8L154.83,309.3L156.14,310.3L158.4,310.8L160.74,310.3L162.23,309.3L163.35,307.8L163.78,306.3L164.22,304.8L164.35,302.8L164.48,300.8L164.45,298.8L164.42,296.8L164.34,294.8L164.27,292.8L164.24,290.8L164.22,288.8L164.2,286.8L164.29,284.13L164.4,281.47L164.5,278.8L164.68,276.55L164.87,274.3L165.06,272.05L165.25,269.8L165.57,267L165.9,264.2L166.24,261.4L166.58,258.6L166.93,255.8L167.34,252.92L167.76,250.03L168.19,247.15L168.63,244.26L169.08,241.38L169.53,238.49L170,235.61L170.47,232.72L170.95,229.84L171.45,226.95L171.95,224.06L172.46,221.18L172.97,218.3L173.5,215.41L174.04,212.53L174.58,209.64L175.13,206.75L175.7,203.87L176.27,200.99L176.85,198.1Z" fill="#000"/>
<path d="M205.53,274.7 L207.43,284.2 L212.33,283.2 L214.23,274.7 Z" fill="#fff" opacity="0.7"/>
<path d="M220.25,198.1L219.66,200.99L219.09,203.87L218.52,206.75L217.96,209.64L217.41,212.53L216.87,215.41L216.34,218.3L215.82,221.18L215.3,224.06L214.8,226.95L214.3,229.84L213.81,232.72L213.33,235.61L212.86,238.49L212.4,241.38L211.95,244.26L211.51,247.15L211.07,250.03L210.65,252.92L210.23,255.8L209.8,258.6L209.38,261.4L208.96,264.2L208.55,267L208.15,269.8L207.78,272.05L207.42,274.3L207.06,276.55L206.7,278.8L206.2,281.47L205.69,284.13L205.2,286.8L204.75,288.8L204.31,290.8L203.87,292.8L203.39,294.8L202.92,296.8L202.5,298.8L202.08,300.8L201.85,302.8L201.62,304.8L201.78,306.3L201.95,307.8L202.83,309.3L204.14,310.3L206.4,310.8L208.74,310.3L210.23,309.3L211.35,307.8L211.78,306.3L212.22,304.8L212.35,302.8L212.48,300.8L212.45,298.8L212.42,296.8L212.34,294.8L212.27,292.8L212.24,290.8L212.22,288.8L212.2,286.8L212.29,284.13L212.4,281.47L212.5,278.8L212.68,276.55L212.87,274.3L213.06,272.05L213.25,269.8L213.57,267L213.9,264.2L214.24,261.4L214.58,258.6L214.93,255.8L215.34,252.92L215.76,250.03L216.19,247.15L216.63,244.26L217.08,241.38L217.53,238.49L218,235.61L218.47,232.72L218.95,229.84L219.45,226.95L219.95,224.06L220.46,221.18L220.97,218.3L221.5,215.41L222.04,212.53L222.58,209.64L223.13,206.75L223.7,203.87L224.27,200.99L224.85,198.1Z" fill="#000"/>
<path d="M252.33,274.7 L254.23,284.2 L259.13,283.2 L261.03,274.7 Z" fill="#fff" opacity="0.7"/>
<path d="M267.05,198.1L266.46,200.99L265.89,203.87L265.32,206.75L264.76,209.64L264.21,212.53L263.67,215.41L263.14,218.3L262.62,221.18L262.1,224.06L261.6,226.95L261.1,229.84L260.61,232.72L260.13,235.61L259.66,238.49L259.2,241.38L258.75,244.26L258.31,247.15L257.87,250.03L257.45,252.92L257.03,255.8L256.6,258.6L256.18,261.4L255.76,264.2L255.35,267L254.95,269.8L254.58,272.05L254.22,274.3L253.86,276.55L253.5,278.8L253,281.47L252.49,284.13L252,286.8L251.55,288.8L251.11,290.8L250.67,292.8L250.19,294.8L249.72,296.8L249.3,298.8L248.88,300.8L248.65,302.8L248.42,304.8L248.58,306.3L248.75,307.8L249.63,309.3L250.94,310.3L253.2,310.8L255.54,310.3L257.03,309.3L258.15,307.8L258.58,306.3L259.02,304.8L259.15,302.8L259.28,300.8L259.25,298.8L259.22,296.8L259.14,294.8L259.07,292.8L259.04,290.8L259.02,288.8L259,286.8L259.09,284.13L259.2,281.47L259.3,278.8L259.48,276.55L259.67,274.3L259.86,272.05L260.05,269.8L260.37,267L260.7,264.2L261.04,261.4L261.38,258.6L261.73,255.8L262.14,252.92L262.56,250.03L262.99,247.15L263.43,244.26L263.88,241.38L264.33,238.49L264.8,235.61L265.27,232.72L265.75,229.84L266.25,226.95L266.75,224.06L267.26,221.18L267.77,218.3L268.3,215.41L268.84,212.53L269.38,209.64L269.93,206.75L270.5,203.87L271.07,200.99L271.65,198.1Z" fill="#000"/>
<rect x="72.3" y="358.5" width="242.2" height="140" fill="#fff"/>
<path d="M80,422.5 C86.67,421.67 106.67,418.62 120,417.5 C133.33,416.38 143,415.97 160,415.8 C177,415.63 205.33,416.3 222,416.5 C238.67,416.7 245.93,416.92 260,417 C274.07,417.08 298.67,417 306.4,417 L306.4,442 L80,442Z" fill="#6fc7fc"/>
<path d="M103,365.2 L305.9,365.2 L305.9,388 C305.9,402 300,412 288,412.3 C283.33,412.25 271,412.13 260,412 C249,411.87 237,411.33 222,411.5 C207,411.67 182,412.65 170,413 C158,413.35 158.33,413.15 150,413.6 C141.67,414.05 128.33,414.88 120,415.7 C111.67,416.52 106.67,417.62 100,418.5 C93.33,419.38 83.33,420.58 80,421 L80.2,402 C83,395 86,388 90,382 C93,377 98,372 103,365.2Z" fill="#deeaf2"/>
<path d="M80,421 C83.33,420.58 93.33,419.38 100,418.5 C106.67,417.62 111.67,416.52 120,415.7 C128.33,414.88 141.67,414.05 150,413.6 C158.33,413.15 158,413.35 170,413 C182,412.65 207,411.67 222,411.5 C237,411.33 249,411.87 260,412 C271,412.13 283.33,412.25 288,412.3 C298,412.3 303.8,406 303.8,396 L303.8,386" fill="none" stroke="#bdbbcd" stroke-width="4.6" stroke-linecap="butt"/>
<path d="M80,419 C83.33,418.42 93.33,416.47 100,415.5 C106.67,414.53 111.67,413.92 120,413.2 C128.33,412.48 141.67,411.63 150,411.2 C158.33,410.77 158,410.93 170,410.6 C182,410.27 207,409.37 222,409.2 C237,409.03 249,409.47 260,409.6 C271,409.73 283.33,409.93 288,410" fill="none" stroke="#c6c5d5" stroke-width="1.6" stroke-dasharray="2 1.5 3 1" opacity="0.9"/>
<line x1="205.7" y1="375.6" x2="210" y2="374" stroke="#a9aab9" stroke-width="1.5" stroke-linecap="round"/>
<line x1="211" y1="373.8" x2="216" y2="372.5" stroke="#a9aab9" stroke-width="1.5" stroke-linecap="round"/>
<line x1="220" y1="390.5" x2="226.7" y2="388" stroke="#a9aab9" stroke-width="1.5" stroke-linecap="round"/>
<line x1="242" y1="396.7" x2="247" y2="394" stroke="#a9aab9" stroke-width="1.5" stroke-linecap="round"/>
<line x1="250" y1="393.5" x2="257" y2="391.5" stroke="#a9aab9" stroke-width="1.5" stroke-linecap="round"/>
<line x1="283.4" y1="397.8" x2="288" y2="395" stroke="#a9aab9" stroke-width="1.5" stroke-linecap="round"/>
<line x1="289" y1="393" x2="293" y2="390.5" stroke="#a9aab9" stroke-width="1.5" stroke-linecap="round"/>
<line x1="190" y1="397.8" x2="191.5" y2="396.5" stroke="#a9aab9" stroke-width="1.5" stroke-linecap="round"/>
<line x1="292" y1="378.5" x2="294" y2="377" stroke="#a9aab9" stroke-width="1.5" stroke-linecap="round"/>
<line x1="97" y1="401" x2="101" y2="399" stroke="#a9aab9" stroke-width="1.5" stroke-linecap="round"/>
<line x1="102" y1="398.5" x2="106" y2="397" stroke="#a9aab9" stroke-width="1.5" stroke-linecap="round"/>
<line x1="255" y1="373" x2="259" y2="371.8" stroke="#a9aab9" stroke-width="1.5" stroke-linecap="round"/>
<rect x="80" y="441.6" width="226.4" height="47.1" fill="#f8cca0"/>
<line x1="107.7" y1="429.73" x2="111.65" y2="430.52" stroke="#e6f8ff" stroke-width="0.9"/><circle cx="111.65" cy="430.52" r="1.09" fill="#e0f6ff"/><line x1="106.91" y1="431.64" x2="110.26" y2="433.88" stroke="#e6f8ff" stroke-width="0.9"/><circle cx="110.26" cy="433.88" r="1.09" fill="#e0f6ff"/><line x1="105.44" y1="433.11" x2="107.68" y2="436.46" stroke="#e6f8ff" stroke-width="0.9"/><circle cx="107.68" cy="436.46" r="1.09" fill="#e0f6ff"/><line x1="103.53" y1="433.9" x2="104.32" y2="437.85" stroke="#e6f8ff" stroke-width="0.9"/><circle cx="104.32" cy="437.85" r="1.09" fill="#e0f6ff"/><line x1="101.47" y1="433.9" x2="100.68" y2="437.85" stroke="#e6f8ff" stroke-width="0.9"/><circle cx="100.68" cy="437.85" r="1.09" fill="#e0f6ff"/><line x1="99.56" y1="433.11" x2="97.32" y2="436.46" stroke="#e6f8ff" stroke-width="0.9"/><circle cx="97.32" cy="436.46" r="1.09" fill="#e0f6ff"/><line x1="98.09" y1="431.64" x2="94.74" y2="433.88" stroke="#e6f8ff" stroke-width="0.9"/><circle cx="94.74" cy="433.88" r="1.09" fill="#e0f6ff"/><line x1="97.3" y1="429.73" x2="93.35" y2="430.52" stroke="#e6f8ff" stroke-width="0.9"/><circle cx="93.35" cy="430.52" r="1.09" fill="#e0f6ff"/><line x1="97.3" y1="427.67" x2="93.35" y2="426.88" stroke="#e6f8ff" stroke-width="0.9"/><circle cx="93.35" cy="426.88" r="1.09" fill="#e0f6ff"/><line x1="98.09" y1="425.76" x2="94.74" y2="423.52" stroke="#e6f8ff" stroke-width="0.9"/><circle cx="94.74" cy="423.52" r="1.09" fill="#e0f6ff"/><line x1="99.56" y1="424.29" x2="97.32" y2="420.94" stroke="#e6f8ff" stroke-width="0.9"/><circle cx="97.32" cy="420.94" r="1.09" fill="#e0f6ff"/><line x1="101.47" y1="423.5" x2="100.68" y2="419.55" stroke="#e6f8ff" stroke-width="0.9"/><circle cx="100.68" cy="419.55" r="1.09" fill="#e0f6ff"/><line x1="103.53" y1="423.5" x2="104.32" y2="419.55" stroke="#e6f8ff" stroke-width="0.9"/><circle cx="104.32" cy="419.55" r="1.09" fill="#e0f6ff"/><line x1="105.44" y1="424.29" x2="107.68" y2="420.94" stroke="#e6f8ff" stroke-width="0.9"/><circle cx="107.68" cy="420.94" r="1.09" fill="#e0f6ff"/><line x1="106.91" y1="425.76" x2="110.26" y2="423.52" stroke="#e6f8ff" stroke-width="0.9"/><circle cx="110.26" cy="423.52" r="1.09" fill="#e0f6ff"/><line x1="107.7" y1="427.67" x2="111.65" y2="426.88" stroke="#e6f8ff" stroke-width="0.9"/><circle cx="111.65" cy="426.88" r="1.09" fill="#e0f6ff"/><circle cx="102.5" cy="428.7" r="5.3" fill="#dca35b" stroke="#f2d9a0" stroke-width="0.6"/>
<line x1="150.57" y1="426.67" x2="155.78" y2="427.7" stroke="#e6f8ff" stroke-width="0.9"/><circle cx="155.78" cy="427.7" r="1.44" fill="#e0f6ff"/><line x1="149.52" y1="429.19" x2="153.94" y2="432.14" stroke="#e6f8ff" stroke-width="0.9"/><circle cx="153.94" cy="432.14" r="1.44" fill="#e0f6ff"/><line x1="147.59" y1="431.12" x2="150.54" y2="435.54" stroke="#e6f8ff" stroke-width="0.9"/><circle cx="150.54" cy="435.54" r="1.44" fill="#e0f6ff"/><line x1="145.07" y1="432.17" x2="146.1" y2="437.38" stroke="#e6f8ff" stroke-width="0.9"/><circle cx="146.1" cy="437.38" r="1.44" fill="#e0f6ff"/><line x1="142.33" y1="432.17" x2="141.3" y2="437.38" stroke="#e6f8ff" stroke-width="0.9"/><circle cx="141.3" cy="437.38" r="1.44" fill="#e0f6ff"/><line x1="139.81" y1="431.12" x2="136.86" y2="435.54" stroke="#e6f8ff" stroke-width="0.9"/><circle cx="136.86" cy="435.54" r="1.44" fill="#e0f6ff"/><line x1="137.88" y1="429.19" x2="133.46" y2="432.14" stroke="#e6f8ff" stroke-width="0.9"/><circle cx="133.46" cy="432.14" r="1.44" fill="#e0f6ff"/><line x1="136.83" y1="426.67" x2="131.62" y2="427.7" stroke="#e6f8ff" stroke-width="0.9"/><circle cx="131.62" cy="427.7" r="1.44" fill="#e0f6ff"/><line x1="136.83" y1="423.93" x2="131.62" y2="422.9" stroke="#e6f8ff" stroke-width="0.9"/><circle cx="131.62" cy="422.9" r="1.44" fill="#e0f6ff"/><line x1="137.88" y1="421.41" x2="133.46" y2="418.46" stroke="#e6f8ff" stroke-width="0.9"/><circle cx="133.46" cy="418.46" r="1.44" fill="#e0f6ff"/><line x1="139.81" y1="419.48" x2="136.86" y2="415.06" stroke="#e6f8ff" stroke-width="0.9"/><circle cx="136.86" cy="415.06" r="1.44" fill="#e0f6ff"/><line x1="142.33" y1="418.43" x2="141.3" y2="413.22" stroke="#e6f8ff" stroke-width="0.9"/><circle cx="141.3" cy="413.22" r="1.44" fill="#e0f6ff"/><line x1="145.07" y1="418.43" x2="146.1" y2="413.22" stroke="#e6f8ff" stroke-width="0.9"/><circle cx="146.1" cy="413.22" r="1.44" fill="#e0f6ff"/><line x1="147.59" y1="419.48" x2="150.54" y2="415.06" stroke="#e6f8ff" stroke-width="0.9"/><circle cx="150.54" cy="415.06" r="1.44" fill="#e0f6ff"/><line x1="149.52" y1="421.41" x2="153.94" y2="418.46" stroke="#e6f8ff" stroke-width="0.9"/><circle cx="153.94" cy="418.46" r="1.44" fill="#e0f6ff"/><line x1="150.57" y1="423.93" x2="155.78" y2="422.9" stroke="#e6f8ff" stroke-width="0.9"/><circle cx="155.78" cy="422.9" r="1.44" fill="#e0f6ff"/><circle cx="143.7" cy="425.3" r="7" fill="#dca35b" stroke="#f2d9a0" stroke-width="0.6"/>
<line x1="198.3" y1="422.85" x2="202.32" y2="423.65" stroke="#e6f8ff" stroke-width="0.9"/><circle cx="202.32" cy="423.65" r="1.11" fill="#e0f6ff"/><line x1="197.49" y1="424.8" x2="200.9" y2="427.08" stroke="#e6f8ff" stroke-width="0.9"/><circle cx="200.9" cy="427.08" r="1.11" fill="#e0f6ff"/><line x1="196" y1="426.29" x2="198.28" y2="429.7" stroke="#e6f8ff" stroke-width="0.9"/><circle cx="198.28" cy="429.7" r="1.11" fill="#e0f6ff"/><line x1="194.05" y1="427.1" x2="194.85" y2="431.12" stroke="#e6f8ff" stroke-width="0.9"/><circle cx="194.85" cy="431.12" r="1.11" fill="#e0f6ff"/><line x1="191.95" y1="427.1" x2="191.15" y2="431.12" stroke="#e6f8ff" stroke-width="0.9"/><circle cx="191.15" cy="431.12" r="1.11" fill="#e0f6ff"/><line x1="190" y1="426.29" x2="187.72" y2="429.7" stroke="#e6f8ff" stroke-width="0.9"/><circle cx="187.72" cy="429.7" r="1.11" fill="#e0f6ff"/><line x1="188.51" y1="424.8" x2="185.1" y2="427.08" stroke="#e6f8ff" stroke-width="0.9"/><circle cx="185.1" cy="427.08" r="1.11" fill="#e0f6ff"/><line x1="187.7" y1="422.85" x2="183.68" y2="423.65" stroke="#e6f8ff" stroke-width="0.9"/><circle cx="183.68" cy="423.65" r="1.11" fill="#e0f6ff"/><line x1="187.7" y1="420.75" x2="183.68" y2="419.95" stroke="#e6f8ff" stroke-width="0.9"/><circle cx="183.68" cy="419.95" r="1.11" fill="#e0f6ff"/><line x1="188.51" y1="418.8" x2="185.1" y2="416.52" stroke="#e6f8ff" stroke-width="0.9"/><circle cx="185.1" cy="416.52" r="1.11" fill="#e0f6ff"/><line x1="190" y1="417.31" x2="187.72" y2="413.9" stroke="#e6f8ff" stroke-width="0.9"/><circle cx="187.72" cy="413.9" r="1.11" fill="#e0f6ff"/><line x1="191.95" y1="416.5" x2="191.15" y2="412.48" stroke="#e6f8ff" stroke-width="0.9"/><circle cx="191.15" cy="412.48" r="1.11" fill="#e0f6ff"/><line x1="194.05" y1="416.5" x2="194.85" y2="412.48" stroke="#e6f8ff" stroke-width="0.9"/><circle cx="194.85" cy="412.48" r="1.11" fill="#e0f6ff"/><line x1="196" y1="417.31" x2="198.28" y2="413.9" stroke="#e6f8ff" stroke-width="0.9"/><circle cx="198.28" cy="413.9" r="1.11" fill="#e0f6ff"/><line x1="197.49" y1="418.8" x2="200.9" y2="416.52" stroke="#e6f8ff" stroke-width="0.9"/><circle cx="200.9" cy="416.52" r="1.11" fill="#e0f6ff"/><line x1="198.3" y1="420.75" x2="202.32" y2="419.95" stroke="#e6f8ff" stroke-width="0.9"/><circle cx="202.32" cy="419.95" r="1.11" fill="#e0f6ff"/><circle cx="193" cy="421.8" r="5.4" fill="#dca35b" stroke="#f2d9a0" stroke-width="0.6"/>
<line x1="245.77" y1="425.35" x2="250.91" y2="426.37" stroke="#e6f8ff" stroke-width="0.9"/><circle cx="250.91" cy="426.37" r="1.42" fill="#e0f6ff"/><line x1="244.74" y1="427.83" x2="249.1" y2="430.75" stroke="#e6f8ff" stroke-width="0.9"/><circle cx="249.1" cy="430.75" r="1.42" fill="#e0f6ff"/><line x1="242.83" y1="429.74" x2="245.75" y2="434.1" stroke="#e6f8ff" stroke-width="0.9"/><circle cx="245.75" cy="434.1" r="1.42" fill="#e0f6ff"/><line x1="240.35" y1="430.77" x2="241.37" y2="435.91" stroke="#e6f8ff" stroke-width="0.9"/><circle cx="241.37" cy="435.91" r="1.42" fill="#e0f6ff"/><line x1="237.65" y1="430.77" x2="236.63" y2="435.91" stroke="#e6f8ff" stroke-width="0.9"/><circle cx="236.63" cy="435.91" r="1.42" fill="#e0f6ff"/><line x1="235.17" y1="429.74" x2="232.25" y2="434.1" stroke="#e6f8ff" stroke-width="0.9"/><circle cx="232.25" cy="434.1" r="1.42" fill="#e0f6ff"/><line x1="233.26" y1="427.83" x2="228.9" y2="430.75" stroke="#e6f8ff" stroke-width="0.9"/><circle cx="228.9" cy="430.75" r="1.42" fill="#e0f6ff"/><line x1="232.23" y1="425.35" x2="227.09" y2="426.37" stroke="#e6f8ff" stroke-width="0.9"/><circle cx="227.09" cy="426.37" r="1.42" fill="#e0f6ff"/><line x1="232.23" y1="422.65" x2="227.09" y2="421.63" stroke="#e6f8ff" stroke-width="0.9"/><circle cx="227.09" cy="421.63" r="1.42" fill="#e0f6ff"/><line x1="233.26" y1="420.17" x2="228.9" y2="417.25" stroke="#e6f8ff" stroke-width="0.9"/><circle cx="228.9" cy="417.25" r="1.42" fill="#e0f6ff"/><line x1="235.17" y1="418.26" x2="232.25" y2="413.9" stroke="#e6f8ff" stroke-width="0.9"/><circle cx="232.25" cy="413.9" r="1.42" fill="#e0f6ff"/><line x1="237.65" y1="417.23" x2="236.63" y2="412.09" stroke="#e6f8ff" stroke-width="0.9"/><circle cx="236.63" cy="412.09" r="1.42" fill="#e0f6ff"/><line x1="240.35" y1="417.23" x2="241.37" y2="412.09" stroke="#e6f8ff" stroke-width="0.9"/><circle cx="241.37" cy="412.09" r="1.42" fill="#e0f6ff"/><line x1="242.83" y1="418.26" x2="245.75" y2="413.9" stroke="#e6f8ff" stroke-width="0.9"/><circle cx="245.75" cy="413.9" r="1.42" fill="#e0f6ff"/><line x1="244.74" y1="420.17" x2="249.1" y2="417.25" stroke="#e6f8ff" stroke-width="0.9"/><circle cx="249.1" cy="417.25" r="1.42" fill="#e0f6ff"/><line x1="245.77" y1="422.65" x2="250.91" y2="421.63" stroke="#e6f8ff" stroke-width="0.9"/><circle cx="250.91" cy="421.63" r="1.42" fill="#e0f6ff"/><circle cx="239" cy="424" r="6.9" fill="#dca35b" stroke="#f2d9a0" stroke-width="0.6"/>
<line x1="281.9" y1="429.85" x2="285.92" y2="430.65" stroke="#e6f8ff" stroke-width="0.9"/><circle cx="285.92" cy="430.65" r="1.11" fill="#e0f6ff"/><line x1="281.09" y1="431.8" x2="284.5" y2="434.08" stroke="#e6f8ff" stroke-width="0.9"/><circle cx="284.5" cy="434.08" r="1.11" fill="#e0f6ff"/><line x1="279.6" y1="433.29" x2="281.88" y2="436.7" stroke="#e6f8ff" stroke-width="0.9"/><circle cx="281.88" cy="436.7" r="1.11" fill="#e0f6ff"/><line x1="277.65" y1="434.1" x2="278.45" y2="438.12" stroke="#e6f8ff" stroke-width="0.9"/><circle cx="278.45" cy="438.12" r="1.11" fill="#e0f6ff"/><line x1="275.55" y1="434.1" x2="274.75" y2="438.12" stroke="#e6f8ff" stroke-width="0.9"/><circle cx="274.75" cy="438.12" r="1.11" fill="#e0f6ff"/><line x1="273.6" y1="433.29" x2="271.32" y2="436.7" stroke="#e6f8ff" stroke-width="0.9"/><circle cx="271.32" cy="436.7" r="1.11" fill="#e0f6ff"/><line x1="272.11" y1="431.8" x2="268.7" y2="434.08" stroke="#e6f8ff" stroke-width="0.9"/><circle cx="268.7" cy="434.08" r="1.11" fill="#e0f6ff"/><line x1="271.3" y1="429.85" x2="267.28" y2="430.65" stroke="#e6f8ff" stroke-width="0.9"/><circle cx="267.28" cy="430.65" r="1.11" fill="#e0f6ff"/><line x1="271.3" y1="427.75" x2="267.28" y2="426.95" stroke="#e6f8ff" stroke-width="0.9"/><circle cx="267.28" cy="426.95" r="1.11" fill="#e0f6ff"/><line x1="272.11" y1="425.8" x2="268.7" y2="423.52" stroke="#e6f8ff" stroke-width="0.9"/><circle cx="268.7" cy="423.52" r="1.11" fill="#e0f6ff"/><line x1="273.6" y1="424.31" x2="271.32" y2="420.9" stroke="#e6f8ff" stroke-width="0.9"/><circle cx="271.32" cy="420.9" r="1.11" fill="#e0f6ff"/><line x1="275.55" y1="423.5" x2="274.75" y2="419.48" stroke="#e6f8ff" stroke-width="0.9"/><circle cx="274.75" cy="419.48" r="1.11" fill="#e0f6ff"/><line x1="277.65" y1="423.5" x2="278.45" y2="419.48" stroke="#e6f8ff" stroke-width="0.9"/><circle cx="278.45" cy="419.48" r="1.11" fill="#e0f6ff"/><line x1="279.6" y1="424.31" x2="281.88" y2="420.9" stroke="#e6f8ff" stroke-width="0.9"/><circle cx="281.88" cy="420.9" r="1.11" fill="#e0f6ff"/><line x1="281.09" y1="425.8" x2="284.5" y2="423.52" stroke="#e6f8ff" stroke-width="0.9"/><circle cx="284.5" cy="423.52" r="1.11" fill="#e0f6ff"/><line x1="281.9" y1="427.75" x2="285.92" y2="426.95" stroke="#e6f8ff" stroke-width="0.9"/><circle cx="285.92" cy="426.95" r="1.11" fill="#e0f6ff"/><circle cx="276.6" cy="428.8" r="5.4" fill="#dca35b" stroke="#f2d9a0" stroke-width="0.6"/>
<path d="M111.41,441.1 L113.31,450.6 L118.21,449.6 L120.11,441.1 Z" fill="#fff" opacity="0.7"/>
<path d="M126.01,365L125.43,367.85L124.86,370.7L124.3,373.55L123.75,376.4L123.21,379.25L122.68,382.1L122.16,384.95L121.64,387.8L121.13,390.65L120.64,393.5L120.15,396.35L119.67,399.2L119.19,402.05L118.73,404.9L118.28,407.75L117.83,410.6L117.39,413.45L116.96,416.3L116.54,419.15L116.13,422L115.7,424.8L115.28,427.6L114.86,430.4L114.45,433.2L114.05,436L113.68,438.25L113.32,440.5L112.96,442.75L112.6,445L112.1,447.67L111.59,450.33L111.1,453L110.65,455L110.21,457L109.77,459L109.29,461L108.82,463L108.4,465L107.98,467L107.75,469L107.52,471L107.68,472.5L107.85,474L108.73,475.5L110.04,476.5L112.3,477L114.64,476.5L116.13,475.5L117.25,474L117.68,472.5L118.12,471L118.25,469L118.38,467L118.35,465L118.32,463L118.24,461L118.17,459L118.14,457L118.12,455L118.1,453L118.19,450.33L118.3,447.67L118.4,445L118.58,442.75L118.77,440.5L118.96,438.25L119.15,436L119.47,433.2L119.8,430.4L120.14,427.6L120.48,424.8L120.83,422L121.24,419.15L121.65,416.3L122.08,413.45L122.51,410.6L122.95,407.75L123.4,404.9L123.86,402.05L124.33,399.2L124.8,396.35L125.29,393.5L125.78,390.65L126.28,387.8L126.79,384.95L127.31,382.1L127.84,379.25L128.37,376.4L128.92,373.55L129.47,370.7L130.04,367.85L130.61,365Z" fill="#000"/>
<path d="M157.51,441.1 L159.41,450.6 L164.31,449.6 L166.21,441.1 Z" fill="#fff" opacity="0.7"/>
<path d="M172.11,365L171.53,367.85L170.96,370.7L170.4,373.55L169.85,376.4L169.31,379.25L168.78,382.1L168.26,384.95L167.74,387.8L167.23,390.65L166.74,393.5L166.25,396.35L165.77,399.2L165.29,402.05L164.83,404.9L164.38,407.75L163.93,410.6L163.49,413.45L163.06,416.3L162.64,419.15L162.23,422L161.8,424.8L161.38,427.6L160.96,430.4L160.55,433.2L160.15,436L159.78,438.25L159.42,440.5L159.06,442.75L158.7,445L158.2,447.67L157.69,450.33L157.2,453L156.75,455L156.31,457L155.87,459L155.39,461L154.92,463L154.5,465L154.08,467L153.85,469L153.62,471L153.78,472.5L153.95,474L154.83,475.5L156.14,476.5L158.4,477L160.74,476.5L162.23,475.5L163.35,474L163.78,472.5L164.22,471L164.35,469L164.48,467L164.45,465L164.42,463L164.34,461L164.27,459L164.24,457L164.22,455L164.2,453L164.29,450.33L164.4,447.67L164.5,445L164.68,442.75L164.87,440.5L165.06,438.25L165.25,436L165.57,433.2L165.9,430.4L166.24,427.6L166.58,424.8L166.93,422L167.34,419.15L167.75,416.3L168.18,413.45L168.61,410.6L169.05,407.75L169.5,404.9L169.96,402.05L170.43,399.2L170.9,396.35L171.39,393.5L171.88,390.65L172.38,387.8L172.89,384.95L173.41,382.1L173.94,379.25L174.47,376.4L175.02,373.55L175.57,370.7L176.14,367.85L176.71,365Z" fill="#000"/>
<path d="M205.51,441.1 L207.41,450.6 L212.31,449.6 L214.21,441.1 Z" fill="#fff" opacity="0.7"/>
<path d="M220.11,365L219.53,367.85L218.96,370.7L218.4,373.55L217.85,376.4L217.31,379.25L216.78,382.1L216.26,384.95L215.74,387.8L215.23,390.65L214.74,393.5L214.25,396.35L213.77,399.2L213.29,402.05L212.83,404.9L212.38,407.75L211.93,410.6L211.49,413.45L211.06,416.3L210.64,419.15L210.23,422L209.8,424.8L209.38,427.6L208.96,430.4L208.55,433.2L208.15,436L207.78,438.25L207.42,440.5L207.06,442.75L206.7,445L206.2,447.67L205.69,450.33L205.2,453L204.75,455L204.31,457L203.87,459L203.39,461L202.92,463L202.5,465L202.08,467L201.85,469L201.62,471L201.78,472.5L201.95,474L202.83,475.5L204.14,476.5L206.4,477L208.74,476.5L210.23,475.5L211.35,474L211.78,472.5L212.22,471L212.35,469L212.48,467L212.45,465L212.42,463L212.34,461L212.27,459L212.24,457L212.22,455L212.2,453L212.29,450.33L212.4,447.67L212.5,445L212.68,442.75L212.87,440.5L213.06,438.25L213.25,436L213.57,433.2L213.9,430.4L214.24,427.6L214.58,424.8L214.93,422L215.34,419.15L215.75,416.3L216.18,413.45L216.61,410.6L217.05,407.75L217.5,404.9L217.96,402.05L218.43,399.2L218.9,396.35L219.39,393.5L219.88,390.65L220.38,387.8L220.89,384.95L221.41,382.1L221.94,379.25L222.47,376.4L223.02,373.55L223.57,370.7L224.14,367.85L224.71,365Z" fill="#000"/>
<path d="M252.31,441.1 L254.21,450.6 L259.11,449.6 L261.01,441.1 Z" fill="#fff" opacity="0.7"/>
<path d="M266.91,365L266.33,367.85L265.76,370.7L265.2,373.55L264.65,376.4L264.11,379.25L263.58,382.1L263.06,384.95L262.54,387.8L262.03,390.65L261.54,393.5L261.05,396.35L260.57,399.2L260.09,402.05L259.63,404.9L259.18,407.75L258.73,410.6L258.29,413.45L257.86,416.3L257.44,419.15L257.03,422L256.6,424.8L256.18,427.6L255.76,430.4L255.35,433.2L254.95,436L254.58,438.25L254.22,440.5L253.86,442.75L253.5,445L253,447.67L252.49,450.33L252,453L251.55,455L251.11,457L250.67,459L250.19,461L249.72,463L249.3,465L248.88,467L248.65,469L248.42,471L248.58,472.5L248.75,474L249.63,475.5L250.94,476.5L253.2,477L255.54,476.5L257.03,475.5L258.15,474L258.58,472.5L259.02,471L259.15,469L259.28,467L259.25,465L259.22,463L259.14,461L259.07,459L259.04,457L259.02,455L259,453L259.09,450.33L259.2,447.67L259.3,445L259.48,442.75L259.67,440.5L259.86,438.25L260.05,436L260.37,433.2L260.7,430.4L261.04,427.6L261.38,424.8L261.73,422L262.14,419.15L262.55,416.3L262.98,413.45L263.41,410.6L263.85,407.75L264.3,404.9L264.76,402.05L265.23,399.2L265.7,396.35L266.19,393.5L266.68,390.65L267.18,387.8L267.69,384.95L268.21,382.1L268.74,379.25L269.27,376.4L269.82,373.55L270.37,370.7L270.94,367.85L271.51,365Z" fill="#000"/>
</svg>
<div class="badge" style="left:2px;top:5.8px;width:122px;height:31.2px;line-height:32px;">point.1</div>
<div class="badge" style="left:10px;top:182.3px;width:123.2px;height:31.5px;line-height:32.5px;">point.2</div>
<div class="badge" style="left:10px;top:337.6px;width:123.2px;height:31px;line-height:33px;">point.3</div>
<div class="h" style="top:25px">皮脂を浮かび上がらせる処方技術</div>
<div class="p" style="top:59px">ミストシャンプーを吹き付けると頭皮に細<br>かく付着！頭皮全体を指でなじませて汚れ<br>を浮き上がらせる！</div>
<div class="h" style="top:198px;left:388px">ミストブラシで頭皮に水を届ける</div>
<div class="p" style="top:230px">ミストブラシから水を頭皮に届け、皮脂を<br>落としやすくする！</div>
<div class="h" style="top:362.5px">タオルで汚れを除去</div>
<div class="p" style="top:394px;font-size:15.2px;left:389px">水で浮かび上がった皮脂をタオルで拭きと<br>り、清潔に！</div>
</body></html>
